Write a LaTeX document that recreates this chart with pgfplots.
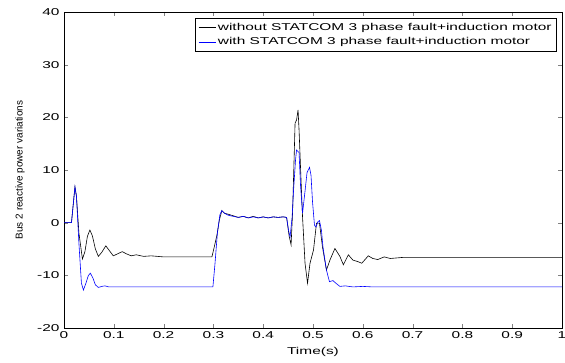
\documentclass[border=0pt]{standalone}
\usepackage{graphicx}
\usepackage{pgfplots}
\pgfplotsset{compat=1.18}
\usepackage{fontspec}
\setmainfont{Liberation Sans}
\newcommand\W[1]{\scalebox{1.55}[1]{#1}}
\begin{document}
\begin{tikzpicture}[x=1bp,y=1bp]
\begin{axis}[
  name=ax,
  scale only axis,
  width=498bp, height=316bp,
  xmin=0, xmax=1, ymin=-20, ymax=40,
  xtick={0,0.1,...,1.0}, ytick={-20,-10,...,40},
  xticklabels={\W{0},\W{0.1},\W{0.2},\W{0.3},\W{0.4},\W{0.5},\W{0.6},\W{0.7},\W{0.8},\W{0.9},\W{1}},
  yticklabels={\W{-20},\W{-10},\W{0},\W{10},\W{20},\W{30},\W{40}},
  tick align=inside, tick pos=both,
  major tick length=4bp,
  tick label style={font=\fontsize{10}{12}\selectfont},
  xticklabel style={yshift=-0.5bp},
  yticklabel style={xshift=-1bp},
  xlabel={\W{Time(s)}}, ylabel={Bus 2 reactive power variations},
  xlabel style={font=\fontsize{10}{12}\selectfont, at={(axis description cs:0.5,0)}, anchor=center, yshift=-24bp},
  ylabel style={font=\fontsize{10}{12}\selectfont, at={(axis description cs:0,0.5)}, anchor=center, rotate=0, yshift=44bp},
  axis line style={line width=0.9pt},
  legend style={at={(rel axis cs:0.99,0.981)}, anchor=north east, font=\fontsize{10}{12}\selectfont,
     draw=black, line width=0.8pt, inner sep=3pt, row sep=1.5bp},
  legend cell align=left,
  every axis plot/.append style={line width=0.6pt},
]
\addplot[black] coordinates {
(0,0) (0.015,0) (0.022,6.8) (0.025,5) (0.03,-2) (0.037,-6.9) (0.042,-5.5) (0.047,-2.6) (0.052,-1.4) (0.057,-2.5) (0.063,-5) (0.069,-6.4) (0.076,-5.6) (0.084,-4.4) (0.091,-5.3) (0.099,-6.3) (0.108,-5.9) (0.117,-5.5) (0.125,-5.9) (0.135,-6.3) (0.145,-6.1) (0.16,-6.4) (0.175,-6.3) (0.2,-6.5) (0.297,-6.5)
(0.302,-4.5) (0.307,-2.4) (0.312,0.5) (0.317,2.3) (0.322,1.8) (0.33,1.6) (0.34,1.3) (0.35,1.0) (0.36,1.2) (0.37,0.9) (0.38,1.2) (0.39,0.9) (0.40,1.1) (0.41,0.9) (0.42,1.1) (0.43,1.0) (0.44,1.1) (0.447,1.0)
(0.452,-2.5) (0.456,-4.2) (0.459,2) (0.462,12) (0.464,18.9) (0.467,19.5) (0.470,21.4) (0.472,17.6) (0.476,8) (0.479,1.1) (0.484,-7.7) (0.489,-11.5) (0.494,-7.7) (0.501,-5.2) (0.507,-0.1) (0.513,-0.1) (0.519,-4.6) (0.527,-9.0) (0.534,-7.1) (0.544,-4.9) (0.554,-6.4) (0.561,-8.0) (0.571,-6.1) (0.58,-7.1) (0.59,-7.4) (0.598,-7.7) (0.611,-6.3) (0.62,-6.8) (0.63,-7.0) (0.643,-6.5) (0.655,-6.8) (0.668,-6.7) (0.68,-6.6) (1,-6.6)
};
\addlegendentry{\W{without STATCOM 3 phase fault+induction motor}}
\addplot[blue] coordinates {
(0,0) (0.015,0) (0.022,6.8) (0.025,5) (0.03,-4) (0.035,-11.5) (0.039,-12.8) (0.044,-11.5) (0.049,-10) (0.053,-9.6) (0.058,-10.5) (0.063,-11.8) (0.069,-12.3) (0.076,-12.1) (0.082,-12.0) (0.09,-12.2) (0.1,-12.2) (0.299,-12.2)
(0.303,-8) (0.308,-2) (0.313,1.5) (0.317,2.3) (0.322,1.8) (0.33,1.4) (0.34,1.2) (0.35,1.0) (0.36,1.2) (0.37,0.9) (0.38,1.1) (0.39,0.9) (0.40,1.1) (0.41,0.9) (0.42,1.1) (0.43,1.0) (0.44,1.1) (0.447,1.0)
(0.451,-1.5) (0.454,-2.7) (0.458,1) (0.461,6.2) (0.465,12) (0.467,13.8) (0.472,13.3) (0.475,7) (0.479,1.8) (0.484,6) (0.488,9.5) (0.493,10.5) (0.496,9) (0.499,4) (0.503,-0.5) (0.506,-0.8) (0.510,0.2) (0.513,0.4) (0.517,-1.5) (0.520,-4.6) (0.527,-9) (0.533,-11.2) (0.540,-11.0) (0.546,-11.5) (0.554,-12.1) (0.565,-12.0) (0.58,-12.2) (0.6,-12.1) (0.62,-12.2) (1,-12.2)
};
\addlegendentry{\W{with STATCOM 3 phase fault+induction motor}}
\end{axis}
\pgfresetboundingbox
\path[use as bounding box] ([shift={(-64bp,-35bp)}]ax.south west) rectangle ([shift={(3bp,12bp)}]ax.north east);
\end{tikzpicture}
\end{document}
